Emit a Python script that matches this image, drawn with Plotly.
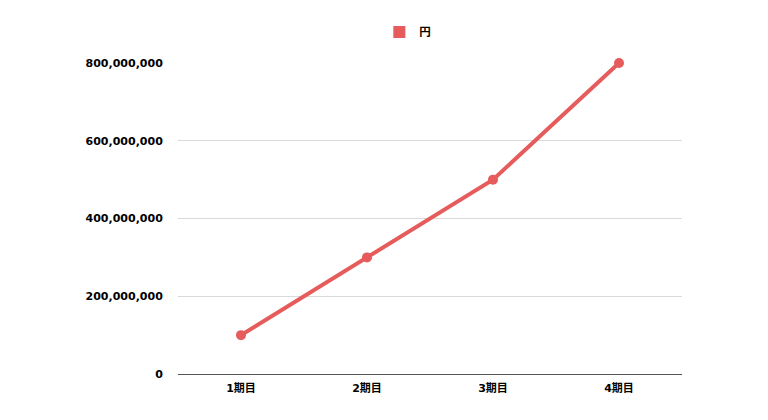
import plotly.graph_objects as go

categories = ["1期目", "2期目", "3期目", "4期目"]
values = [100000000, 300000000, 500000000, 800000000]
series_name = "円"
tick_vals = [0, 200000000, 400000000, 600000000, 800000000]
tick_text = ["0", "200,000,000", "400,000,000", "600,000,000", "800,000,000"]

color = "#E65C5C"
font_family = "DejaVu Sans, Noto Sans CJK JP, sans-serif"

fig = go.Figure()
fig.add_trace(go.Scatter(
    x=categories, y=values, mode="lines+markers",
    line=dict(color=color, width=4),
    marker=dict(color=color, size=10),
    showlegend=False, cliponaxis=False,
))
fig.add_trace(go.Scatter(
    x=[None], y=[None], mode="markers", name=series_name,
    marker=dict(color=color, size=12, symbol="square"),
    showlegend=True,
))

fig.update_layout(
    width=768, height=420,
    margin=dict(l=170, r=94, t=55, b=54, autoexpand=False),
    paper_bgcolor="white", plot_bgcolor="white",
    font=dict(family=font_family, size=11, color="black", weight="bold"),
    showlegend=True,
    legend=dict(orientation="h", x=0.456, xanchor="center", y=0.943, yanchor="middle",
                yref="container", font=dict(size=11.5, color="black", weight="bold")),
    xaxis=dict(
        type="category", range=[-0.5, 3.5], showgrid=False, showline=True,
        linecolor="#555555", linewidth=1,
        tickfont=dict(size=11, color="black", weight="bold"),
        ticks="outside", ticklen=4, tickcolor="rgba(0,0,0,0)",
    ),
    yaxis=dict(
        range=[0, 800000000], tickvals=tick_vals, ticktext=tick_text,
        showgrid=True, gridcolor="#D9D9D9", gridwidth=1,
        zeroline=False, showline=False,
        tickfont=dict(size=11, color="black", weight="bold"),
        ticks="outside", ticklen=12, tickcolor="rgba(0,0,0,0)",
    ),
)

fig.write_html("out.html")
